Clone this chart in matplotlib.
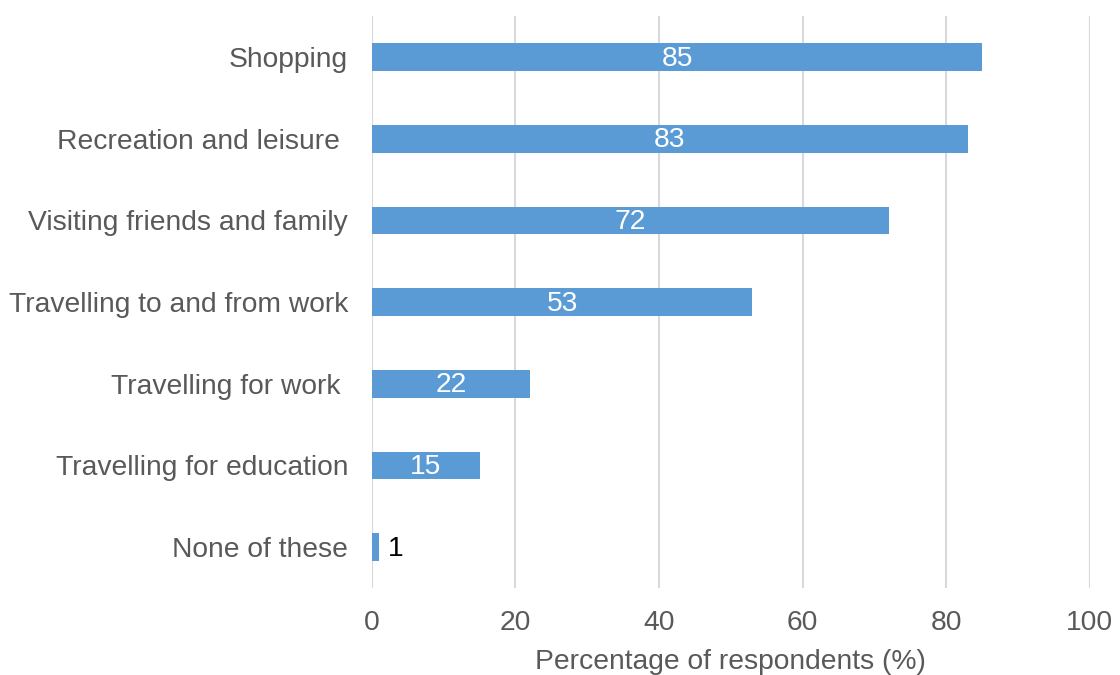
import matplotlib.pyplot as plt

plt.rcParams["font.family"] = ["Liberation Sans", "DejaVu Sans"]

categories = ["Shopping", "Recreation and leisure ", "Visiting friends and family",
              "Travelling to and from work", "Travelling for work ",
              "Travelling for education", "None of these"]
values = [85, 83, 72, 53, 22, 15, 1]
xticks = [0, 20, 40, 60, 80, 100]

bar_color = "#5B9BD5"
text_color = "#595959"
fs = 20.3

fig = plt.figure(figsize=(11.2, 6.75), dpi=100)
ax = fig.add_axes([0.332, 0.129, 0.641, 0.847])

ypos = list(range(len(categories)))
bars = ax.barh(ypos, values, height=0.34, color=bar_color, zorder=3)

# value labels: white inside the bar, black beside the tiny one
for y, v in zip(ypos, values):
    if v >= 5:
        ax.text(v / 2, y + 0.02, str(v), ha="center", va="center", color="white",
                fontsize=fs, zorder=4)
    else:
        ax.text(v + 1.2, y + 0.02, str(v), ha="left", va="center", color="black",
                fontsize=fs, zorder=4)

ax.set_yticks(ypos)
ax.set_yticklabels(categories)
ax.set_ylim(len(categories) - 0.5, -0.5)
ax.set_xlim(0, 100)
ax.set_xticks(xticks)
ax.tick_params(axis="y", length=0, pad=17, labelsize=fs, labelcolor=text_color)
ax.tick_params(axis="x", length=0, pad=16, labelsize=fs, labelcolor=text_color)

ax.grid(axis="x", color="#D9D9D9", linewidth=1.5, zorder=0)
for s in ax.spines.values():
    s.set_visible(False)

ax.set_xlabel("Percentage of respondents (%)", fontsize=fs, color=text_color, labelpad=9)

fig.savefig("out.png", dpi=100)
